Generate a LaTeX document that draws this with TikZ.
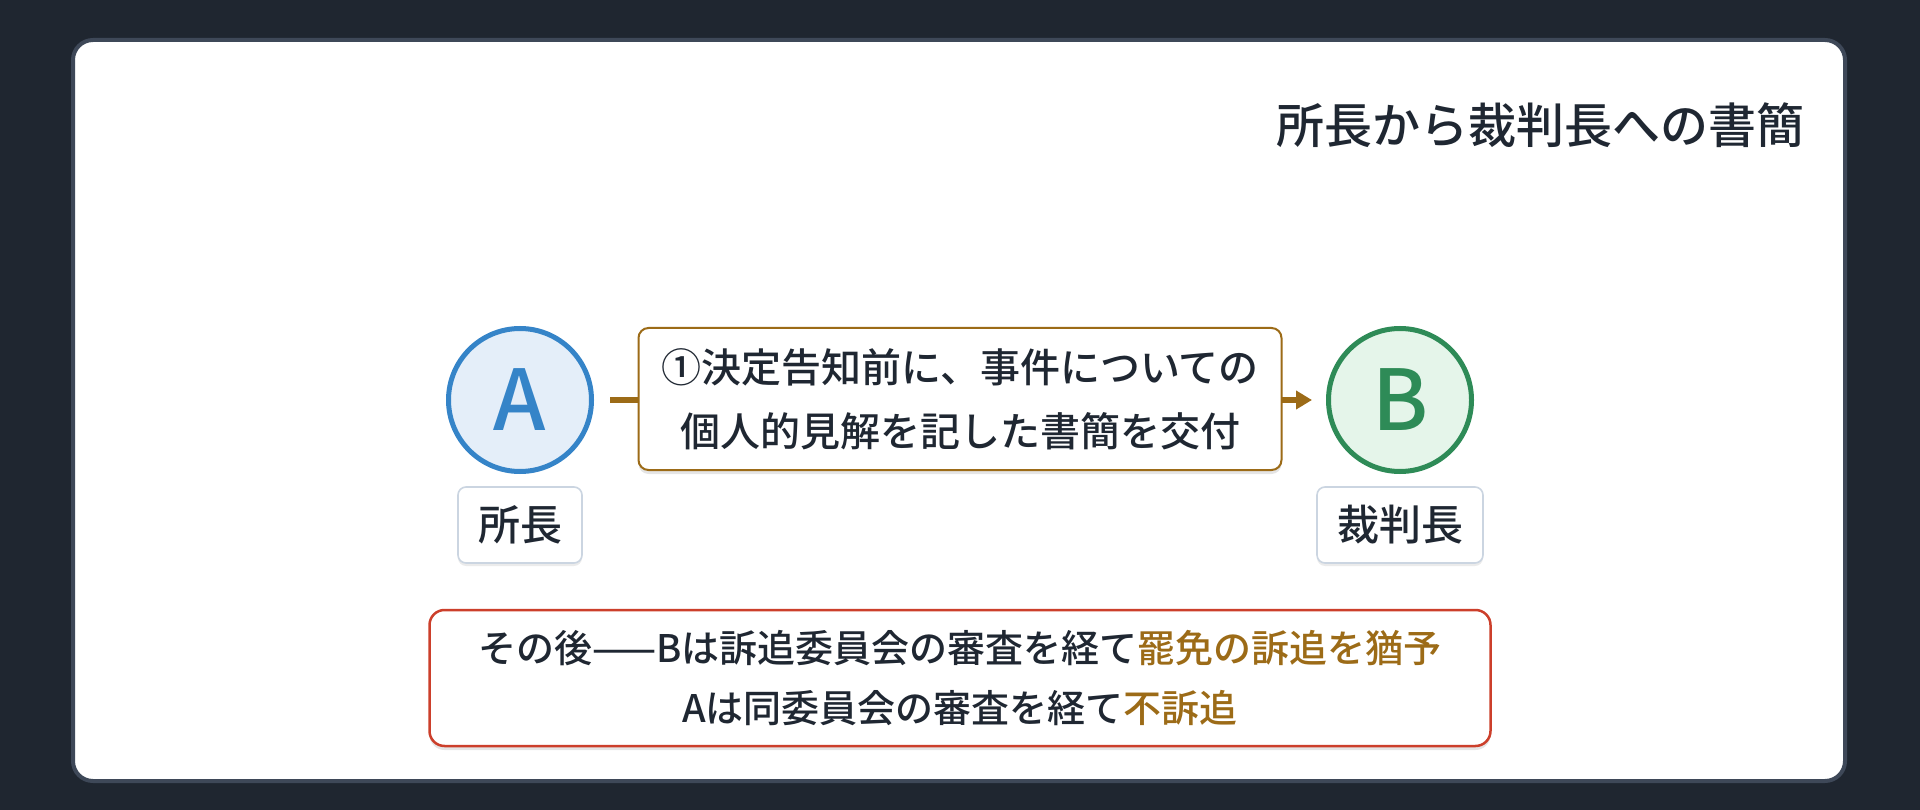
\documentclass[tikz,border=0pt]{standalone}
\usepackage{fontspec}
\setmainfont{Noto Sans CJK JP}[UprightFont=* Medium, BoldFont=* Bold]
\usetikzlibrary{arrows.meta,shadows}
\definecolor{bgc}{HTML}{1F2630}
\definecolor{panelc}{HTML}{3E4858}
\definecolor{txt}{HTML}{1F2732}
\definecolor{blueA}{HTML}{3584C8}
\definecolor{blueF}{HTML}{E4EEF9}
\definecolor{greenB}{HTML}{2E8B57}
\definecolor{greenF}{HTML}{E5F5EA}
\definecolor{gold}{HTML}{9C6B17}
\definecolor{redc}{HTML}{CC3F2B}
\definecolor{labc}{HTML}{CBD5E1}
\tikzset{
  circ/.style={circle, line width=5pt, minimum size=143pt, inner sep=0pt, font=\fontsize{84}{90}\selectfont},
  lab/.style={draw=labc, line width=1.6pt, fill=white, rounded corners=8pt, minimum height=76pt, inner xsep=20pt, inner ysep=0pt, text=txt, font=\fontsize{42}{50}\selectfont, drop shadow={shadow xshift=0pt, shadow yshift=-3pt, opacity=0.08, fill=black}},
  msgbox/.style={draw=gold, line width=2pt, fill=white, rounded corners=10pt, minimum width=643pt, minimum height=142pt, align=center, text=txt, font=\fontsize{40}{64}\selectfont, drop shadow={shadow xshift=0pt, shadow yshift=-4pt, opacity=0.10, fill=black}},
  notebox/.style={draw=redc, line width=2.5pt, fill=white, rounded corners=15pt, minimum width=1061pt, minimum height=136pt, align=center, text=txt, font=\fontsize{38}{60}\selectfont, drop shadow={shadow xshift=0pt, shadow yshift=-4pt, opacity=0.10, fill=black}},
  arr/.style={draw=gold, line width=6pt, -{Triangle[length=16pt,width=18pt]}},
}
\begin{document}
\begin{tikzpicture}[x=1pt,y=-1pt]
\useasboundingbox (0,0) rectangle (1920,810);
\fill[bgc] (0,0) rectangle (1920,810);
\draw[panelc, line width=4pt, fill=white, rounded corners=20pt] (73,40) rectangle (1845,781);
\node[anchor=east, inner sep=0pt, text=txt, font=\fontsize{48}{56}\selectfont] (title) at (1805,125) {所長から裁判長への書簡};
\node[circ, draw=blueA, fill=blueF, text=blueA] (A) at (520,400) {A};
\node[circ, draw=greenB, fill=greenF, text=greenB] (B) at (1400,400) {B};
\node[lab] (la) at (520,525) {所長};
\node[lab] (lb) at (1400,525) {裁判長};
\draw[arr] ([xshift=16pt]A.east) -- ([xshift=-14pt]B.west);
\node[msgbox] (msg) at (960,399) {①決定告知前に、事件についての\\個人的見解を記した書簡を交付};
\node[notebox] (note) at (960,678) {その後——Bは訴追委員会の審査を経て\textcolor{gold}{罷免の訴追を猶予}\\Aは同委員会の審査を経て\textcolor{gold}{不訴追}};
\end{tikzpicture}
\end{document}
